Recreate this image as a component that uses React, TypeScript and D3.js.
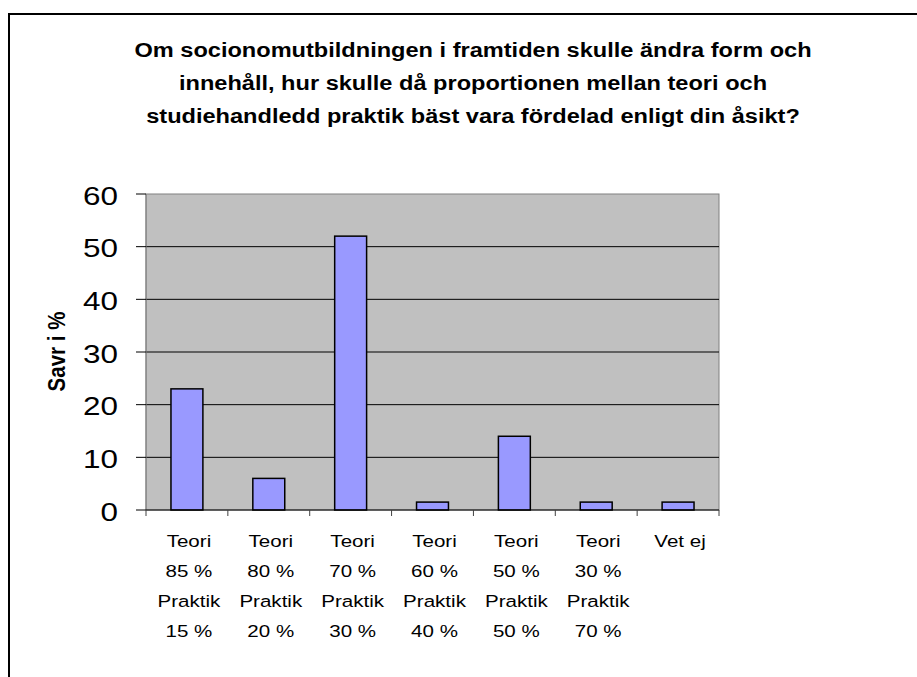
import React from 'react';
import * as d3 from 'd3';

const titleLines = [
  'Om socionomutbildningen i framtiden skulle ändra form och',
  'innehåll, hur skulle då proportionen mellan teori och',
  'studiehandledd praktik bäst vara fördelad enligt din åsikt?',
];

const categories = [
  ['Teori', '85 %', 'Praktik', '15 %'],
  ['Teori', '80 %', 'Praktik', '20 %'],
  ['Teori', '70 %', 'Praktik', '30 %'],
  ['Teori', '60 %', 'Praktik', '40 %'],
  ['Teori', '50 %', 'Praktik', '50 %'],
  ['Teori', '30 %', 'Praktik', '70 %'],
  ['Vet ej'],
];

const values = [23, 6, 52, 1.5, 14, 1.5, 1.5];

const yTicks = [0, 10, 20, 30, 40, 50, 60];

const yTitle = 'Savr i %';

const W = 917;
const H = 677;
const font = '"Liberation Sans", Arial, sans-serif';
// the reference text is a bit wider than plain Arial
const SX = 1.21;

const App = () => {
  const left = 146;
  const right = 719;
  const top = 194;
  const bottom = 510;

  const x = d3
    .scaleBand<number>()
    .domain(d3.range(values.length))
    .range([left, right])
    .paddingInner(0)
    .paddingOuter(0);

  const y = d3.scaleLinear().domain([0, 60]).range([bottom, top]);

  const barW = x.bandwidth() * 0.39;
  const bounds = d3.range(values.length + 1).map((i) => left + i * x.step());

  return (
    <svg
      width={W}
      height={H}
      style={{ position: 'absolute', left: 0, top: 0, background: '#fff' }}
      fontFamily={font}
    >
      <rect x={9} y={14} width={W + 20} height={H + 20} fill="#fff" stroke="#000" strokeWidth={2} />

      {titleLines.map((t, i) => (
        <text
          key={i}
          transform={`translate(473, ${57 + i * 33}) scale(${SX},1)`}
          textAnchor="middle"
          fontSize={19.5}
          fontWeight="bold"
          fill="#000"
        >
          {t}
        </text>
      ))}

      {/* plot area */}
      <rect
        x={left}
        y={top}
        width={right - left}
        height={bottom - top}
        fill="#c0c0c0"
        stroke="#808080"
        strokeWidth={1}
      />

      {yTicks
        .filter((t) => t > 0 && t < 60)
        .map((t) => (
          <line key={t} x1={left} x2={right} y1={y(t)} y2={y(t)} stroke="#000" strokeWidth={1} />
        ))}

      {values.map((v, i) => (
        <rect
          key={i}
          x={(x(i) as number) + x.bandwidth() / 2 - barW / 2}
          y={y(v)}
          width={barW}
          height={bottom - y(v)}
          fill="#9999ff"
          stroke="#000"
          strokeWidth={1.5}
        />
      ))}

      {/* axes */}
      <line x1={left} x2={left} y1={top} y2={bottom} stroke="#808080" strokeWidth={1} />
      <line x1={left} x2={right} y1={bottom} y2={bottom} stroke="#000" strokeWidth={1} />

      {yTicks.map((t) => (
        <g key={t}>
          <line x1={left - 10} x2={left} y1={y(t)} y2={y(t)} stroke="#000" strokeWidth={1} />
          <text
            transform={`translate(118, ${y(t) + 10.5}) scale(${SX},1)`}
            textAnchor="end"
            fontSize={26}
            fill="#000"
          >
            {t}
          </text>
        </g>
      ))}

      {bounds.map((b, i) => (
        <line key={i} x1={b} x2={b} y1={bottom} y2={bottom + 6} stroke="#404040" strokeWidth={1} />
      ))}

      {categories.map((lines, i) =>
        lines.map((l, j) => (
          <text
            key={`${i}-${j}`}
            transform={`translate(${(x(i) as number) + x.bandwidth() / 2 + 2}, ${547 + j * 30}) scale(${SX},1)`}
            textAnchor="middle"
            fontSize={17}
            fill="#000"
          >
            {l}
          </text>
        ))
      )}

      <text
        transform={`translate(65, 351.5) scale(${SX},1) rotate(-90)`}
        textAnchor="middle"
        fontSize={20.5}
        fontWeight="bold"
        fill="#000"
      >
        {yTitle}
      </text>
    </svg>
  );
};

export default App;
